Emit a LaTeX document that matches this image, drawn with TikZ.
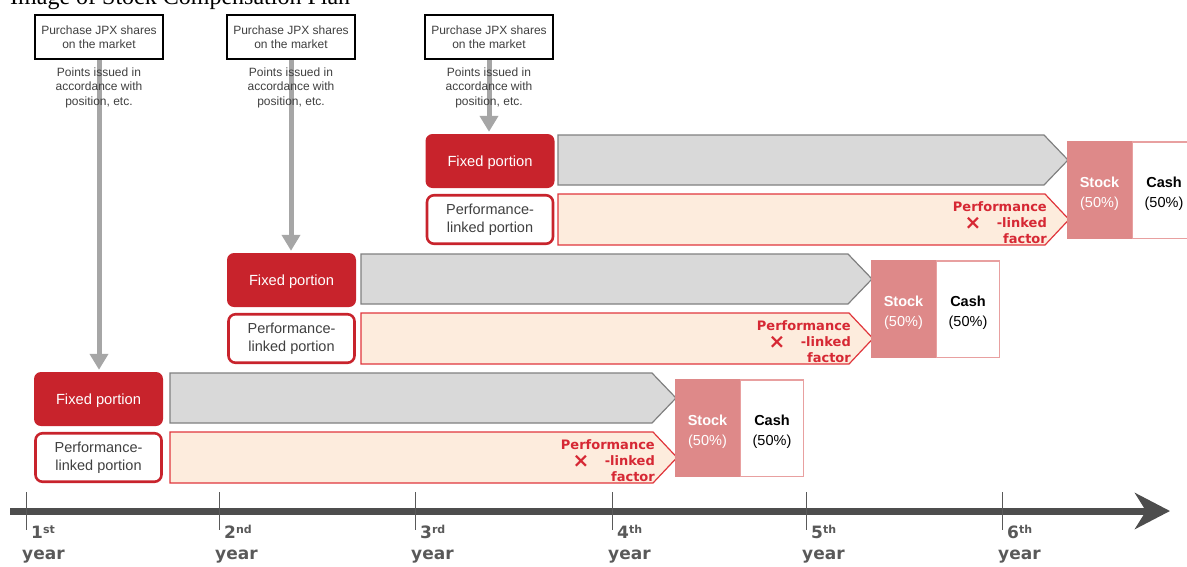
\documentclass[tikz,border=0pt]{standalone}
\usepackage{fontspec}
\setmainfont{Liberation Sans}
\newfontfamily\dejab{DejaVu Sans}[BoldFont={DejaVu Sans Bold}]
\newfontfamily\serifttl{Liberation Serif}
\usetikzlibrary{arrows.meta}
\definecolor{jred}{HTML}{C8232C}
\definecolor{txtgray}{HTML}{404040}
\definecolor{arrgray}{HTML}{D9D9D9}
\definecolor{arredge}{HTML}{808080}
\definecolor{peach}{HTML}{FDECDD}
\definecolor{peachedge}{HTML}{E0363C}
\definecolor{stockfill}{HTML}{DE8989}
\definecolor{cashedge}{HTML}{E8A0A0}
\definecolor{factred}{HTML}{D62834}
\definecolor{vgray}{HTML}{A6A6A6}
\definecolor{axisgray}{HTML}{4D4D4D}
\definecolor{tickgray}{HTML}{595959}
\tikzset{
  purch/.style={draw=black, line width=2pt, fill=white, minimum width=128pt, minimum height=44pt, inner sep=0pt, align=center, text=txtgray, font=\fontsize{12}{14.5}\selectfont},
  pts/.style={align=center, text=txtgray, inner sep=0pt, font=\fontsize{12}{14.5}\selectfont},
  vline/.style={draw=vgray, line width=5pt, -{Triangle[width=18pt,length=16pt]}},
  fixedbox/.style={fill=jred, rounded corners=7pt, minimum width=129pt, minimum height=54pt, inner sep=0pt, text=white, text height=10.5pt, text depth=0pt, font=\fontsize{14.7}{16}\selectfont},
  perfbox/.style={draw=jred, fill=white, line width=2.6pt, rounded corners=7pt, minimum width=126pt, minimum height=48.5pt, inner sep=0pt, align=center, text=txtgray, font=\fontsize{14.5}{18}\selectfont},
  grayarrow/.style={fill=arrgray, draw=arredge, line width=1.2pt, line join=miter},
  peacharrow/.style={fill=peach, draw=peachedge, line width=1.2pt, line join=miter},
  stockbox/.style={fill=stockfill, minimum width=65pt, minimum height=98pt, inner sep=0pt, align=center, text=white, font=\fontsize{14.5}{19.5}\selectfont},
  cashbox/.style={draw=cashedge, line width=1.5pt, fill=white, minimum width=63pt, minimum height=96.5pt, inner sep=0pt, align=center, text=black, font=\fontsize{14.5}{19.5}\selectfont},
  facttext/.style={align=right, text=factred, inner sep=0pt, font=\dejab\bfseries\fontsize{13}{16}\selectfont},
  crossmark/.style={text=factred, inner sep=0pt, font=\dejab\bfseries\fontsize{20}{20}\selectfont},
  yearnum/.style={text=tickgray, inner sep=0pt, font=\dejab\bfseries\fontsize{17}{17}\selectfont},
  tickline/.style={draw=tickgray, line width=1pt},
  axisline/.style={draw=axisgray, line width=7pt, -{Stealth[length=35pt,width=36pt,inset=11pt]}}
}
\begin{document}
\begin{tikzpicture}[x=1pt,y=-1pt]
\useasboundingbox (0,0) rectangle (1187,566);
% title (cut off at the top)
\node[anchor=base west, inner sep=0pt, font=\serifttl\fontsize{24}{24}\selectfont, text=black] (title) at (10,4.5) {Image of Stock Compensation Plan};
% rows
\foreach \k/\dx/\dy/\sx/\fx in {1/0/0/170/98.5, 2/196/-119/165/95.5, 3/392/-238/166/98}{
  \begin{scope}[shift={(\dx,\dy)}]
    \draw[grayarrow] (\sx,373) -- (652,373) -- (676,398) -- (652,423) -- (\sx,423) -- cycle;
    \draw[peacharrow] (\sx,432) -- (653,432) -- (677,457.5) -- (653,483) -- (\sx,483) -- cycle;
    \node[fixedbox] (fix\k) at (\fx,399) {Fixed portion};
    \node[perfbox] (perf\k) at (\fx,457.5) {Performance-\\linked portion};
    \node[stockbox] (stock\k) at (707.5,428) {\rule{0pt}{18pt}\textbf{Stock}\\(50\%)};
    \node[cashbox] (cash\k) at (772,428) {\rule{0pt}{18pt}\textbf{Cash}\\(50\%)};
    \node[facttext, anchor=north east] (fact\k) at (655,439) {Performance\\-linked\\factor};
    \node[crossmark] (x\k) at (581,461) {×};
  \end{scope}
}
% purchase boxes and arrows
\foreach \k/\px in {1/99, 2/291, 3/489}{
  \node[purch] (pur\k) at (\px,37) {Purchase JPX shares\\on the market};
  \draw[vline] (pur\k.south) -- ([yshift=2pt]pur\k.south |- fix\k.north);
  \node[pts] (pts\k) at (\px,87.5) {Points issued in\\accordance with\\position, etc.};
}
% axis
\coordinate (axs) at (10,511);
\coordinate (axe) at (1170,511);
\draw[axisline] (axs) -- (axe);
\foreach \i/\t/\s in {1/26/st, 2/219/nd, 3/415/rd, 4/612/th, 5/806/th, 6/1002/th}{
  \coordinate (ta\i) at (\t,492);
  \coordinate (tb\i) at (\t,530);
  \draw[tickline] (ta\i) -- (tb\i);
  \node[yearnum, anchor=base west] (yn\i) at (\t+5,538) {\i\raisebox{5pt}{\fontsize{11}{11}\selectfont\s}};
  \node[yearnum, anchor=base west] (yw\i) at (\t-4,559) {year};
}
\end{tikzpicture}
\end{document}
